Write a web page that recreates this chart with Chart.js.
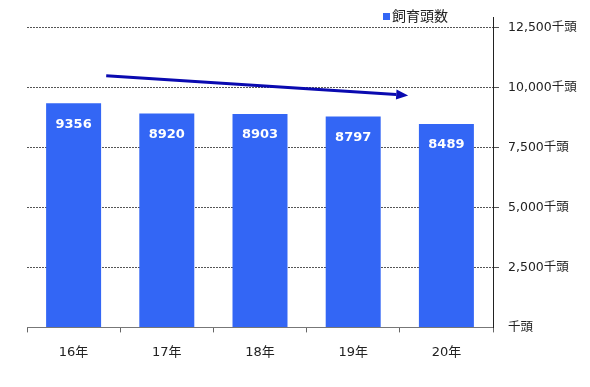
<!DOCTYPE html>
<html>
<head>
<meta charset="utf-8">
<script src="https://cdn.jsdelivr.net/npm/chart.js@4/dist/chart.umd.min.js"></script>
<style>
  html, body { margin: 0; padding: 0; background: #fff; }
  #wrap { width: 590px; height: 387px; }
</style>
</head>
<body>
<div id="wrap"><canvas id="headChart"></canvas></div>
<script>
const years = ["16年", "17年", "18年", "19年", "20年"];
const headCounts = [9356, 8920, 8903, 8797, 8489];
const seriesName = "飼育頭数";
const tickUnit = "千頭";
const yTicks = [0, 2500, 5000, 7500, 10000, 12500];
// trend arrow, in category index / value units
const arrowFrom = [0.35, 10500];
const arrowTo = [3.59, 9680];

const FONT = "'DejaVu Sans', 'Noto Sans CJK JP', sans-serif";
const BAR_COLOR = "#3366f5";

const barLabels = {
    id: "barLabels",
    afterDatasetsDraw(chart) {
        const ctx = chart.ctx;
        const meta = chart.getDatasetMeta(0);
        ctx.save();
        ctx.fillStyle = "#fff";
        ctx.font = "bold 13px " + FONT;
        ctx.textAlign = "center";
        ctx.textBaseline = "middle";
        meta.data.forEach((bar, i) => {
            ctx.fillText(String(headCounts[i]), bar.x, bar.y + 21);
        });
        ctx.restore();
    }
};

const trendArrow = {
    id: "trendArrow",
    afterDraw(chart) {
        const xs = chart.scales.x, ys = chart.scales.y;
        const x1 = xs.getPixelForValue(arrowFrom[0]), y1 = ys.getPixelForValue(arrowFrom[1]);
        const x2 = xs.getPixelForValue(arrowTo[0]), y2 = ys.getPixelForValue(arrowTo[1]);
        const ang = Math.atan2(y2 - y1, x2 - x1);
        const head = 12, half = 5;
        const bx = x2 - head * Math.cos(ang), by = y2 - head * Math.sin(ang);
        const ctx = chart.ctx;
        ctx.save();
        ctx.strokeStyle = "#0a0ab0";
        ctx.fillStyle = "#0a0ab0";
        ctx.lineWidth = 3;
        ctx.beginPath();
        ctx.moveTo(x1, y1);
        ctx.lineTo(bx, by);
        ctx.stroke();
        ctx.beginPath();
        ctx.moveTo(x2, y2);
        ctx.lineTo(bx + half * Math.sin(ang), by - half * Math.cos(ang));
        ctx.lineTo(bx - half * Math.sin(ang), by + half * Math.cos(ang));
        ctx.closePath();
        ctx.fill();
        ctx.restore();
    }
};

const topLegend = {
    id: "topLegend",
    afterDraw(chart) {
        const ctx = chart.ctx;
        const ds = chart.data.datasets[0];
        const x = chart.chartArea.right - 110;
        const y = 17;
        ctx.save();
        ctx.fillStyle = ds.backgroundColor;
        ctx.fillRect(x, y - 4, 7, 7);
        ctx.fillStyle = "#222";
        ctx.font = "14px " + FONT;
        ctx.textBaseline = "middle";
        ctx.fillText(ds.label, x + 9, y);
        ctx.restore();
    }
};

new Chart(document.getElementById("headChart"), {
    type: "bar",
    data: {
        labels: years,
        datasets: [{
            label: seriesName,
            data: headCounts,
            backgroundColor: BAR_COLOR,
            categoryPercentage: 1,
            barPercentage: 0.59
        }]
    },
    options: {
        responsive: true,
        maintainAspectRatio: false,
        animation: false,
        layout: { padding: { top: 17, left: 27, right: 0, bottom: 15 } },
        plugins: {
            legend: { display: false },
            tooltip: { enabled: false }
        },
        scales: {
            x: {
                offset: true,
                grid: {
                    drawOnChartArea: false,
                    drawTicks: true,
                    tickLength: 5,
                    color: "#666"
                },
                border: { display: true, color: "#777", width: 1 },
                ticks: {
                    color: "#222",
                    padding: 12,
                    font: { family: FONT, size: 13 }
                }
            },
            y: {
                position: "right",
                min: 0,
                max: 12950,
                afterBuildTicks(scale) { scale.ticks = yTicks.map((v) => ({ value: v })); },
                afterFit(scale) { scale.width = 97; },
                grid: {
                    color: (c) => (c.tick && c.tick.value === 0 ? "transparent" : "#555"),
                    lineWidth: 1,
                    tickLength: 6
                },
                border: { display: true, color: "#222", width: 1, dash: [2, 1] },
                ticks: {
                    padding: 9,
                    color: "#222",
                    font: { family: FONT, size: 12.5 },
                    callback: (v) => (v === 0 ? tickUnit : v.toLocaleString("en-US") + tickUnit)
                }
            }
        }
    },
    plugins: [barLabels, trendArrow, topLegend]
});
</script>
</body>
</html>
